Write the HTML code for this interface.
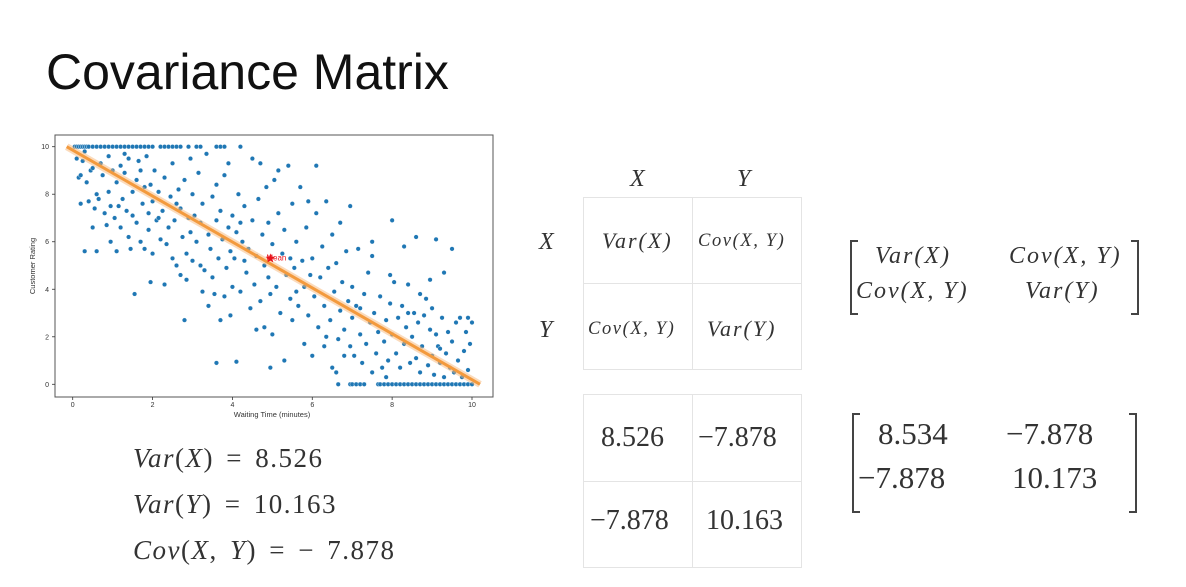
<!DOCTYPE html>
<html><head><meta charset="utf-8">
<style>
body{margin:0;width:1186px;height:587px;background:#fff;overflow:hidden;position:relative;font-family:"Liberation Sans",sans-serif}
.t{position:absolute;white-space:nowrap}
.m{font-family:"Liberation Serif",serif;color:#333}
.i{font-style:italic}
.cell{position:absolute;border:1px solid #e4e4e4;box-sizing:border-box}
.eq{font-size:27px;letter-spacing:1.5px;word-spacing:4px}
</style></head><body>
<div class="t" style="left:46px;top:43px;font-size:50px;color:#111">Covariance Matrix</div>

<svg id="chart" width="520" height="300" style="position:absolute;left:0;top:125px" viewBox="0 125 520 300"></svg>

<div class="t m eq" style="left:133px;top:443px"><span class="i">Var</span>(<span class="i">X</span>) = 8.526</div>
<div class="t m eq" style="left:133px;top:489px"><span class="i">Var</span>(<span class="i">Y</span>) = 10.163</div>
<div class="t m eq" style="left:133px;top:535px"><span class="i">Cov</span>(<span class="i">X</span>, <span class="i">Y</span>) = − 7.878</div>

<div class="t m i" style="left:630px;top:166px;font-size:24px">X</div>
<div class="t m i" style="left:737px;top:166px;font-size:24px">Y</div>
<div class="t m i" style="left:539px;top:229px;font-size:24px">X</div>
<div class="t m i" style="left:539px;top:317px;font-size:24px">Y</div>

<div class="cell" style="left:583px;top:197px;width:110px;height:87px"></div>
<div class="cell" style="left:692px;top:197px;width:110px;height:87px"></div>
<div class="cell" style="left:583px;top:283px;width:110px;height:87px"></div>
<div class="cell" style="left:692px;top:283px;width:110px;height:87px"></div>
<div class="t m i" style="left:602px;top:228px;font-size:22px;letter-spacing:2px">Var(X)</div>
<div class="t m i" style="left:698px;top:231px;font-size:18.5px;letter-spacing:1.6px">Cov(X, Y)</div>
<div class="t m i" style="left:588px;top:319px;font-size:18.5px;letter-spacing:1.6px">Cov(X, Y)</div>
<div class="t m i" style="left:707px;top:316px;font-size:22px;letter-spacing:2px">Var(Y)</div>

<div class="cell" style="left:583px;top:394px;width:110px;height:88px"></div>
<div class="cell" style="left:692px;top:394px;width:110px;height:88px"></div>
<div class="cell" style="left:583px;top:481px;width:110px;height:87px"></div>
<div class="cell" style="left:692px;top:481px;width:110px;height:87px"></div>
<div class="t m" style="left:601px;top:422px;font-size:28px">8.526</div>
<div class="t m" style="left:698px;top:422px;font-size:28px">−7.878</div>
<div class="t m" style="left:590px;top:505px;font-size:28px">−7.878</div>
<div class="t m" style="left:706px;top:505px;font-size:28px">10.163</div>

<svg width="1186" height="587" style="position:absolute;left:0;top:0">
<path d="M858 241 H851 V314 H858 M1131 241 H1138 V314 H1131" fill="none" stroke="#444" stroke-width="2"/>
<path d="M860 414 H853 V512 H860 M1129 414 H1136 V512 H1129" fill="none" stroke="#444" stroke-width="2"/>
</svg>
<div class="t m i" style="left:875px;top:243px;font-size:24px;letter-spacing:2px">Var(X)</div>
<div class="t m i" style="left:1009px;top:243px;font-size:24px;letter-spacing:2px">Cov(X, Y)</div>
<div class="t m i" style="left:856px;top:278px;font-size:24px;letter-spacing:2px">Cov(X, Y)</div>
<div class="t m i" style="left:1025px;top:278px;font-size:24px;letter-spacing:2px">Var(Y)</div>
<div class="t m" style="left:878px;top:416px;font-size:31px">8.534</div>
<div class="t m" style="left:1006px;top:416px;font-size:31px">−7.878</div>
<div class="t m" style="left:858px;top:460px;font-size:31px">−7.878</div>
<div class="t m" style="left:1012px;top:460px;font-size:31px">10.173</div>

<script>
const xTicks=[0,2,4,6,8,10];
const yTicks=[0,2,4,6,8,10];
const topRowX=[0.05,0.1,0.15,0.2,0.25,0.3,0.35,0.4,0.5,0.6,0.7,0.8,0.9,1.0,1.1,1.2,1.3,1.4,1.5,1.6,1.7,1.8,1.9,2.0,2.2,2.3,2.4,2.5,2.6,2.7,2.9,3.1,3.2,3.6,3.7,3.8,4.2];
const bottomRowX=[6.65,6.95,7.0,7.1,7.2,7.3,7.65,7.7,7.8,7.9,8.0,8.1,8.2,8.3,8.4,8.5,8.6,8.7,8.8,8.9,9.0,9.1,9.2,9.3,9.4,9.5,9.6,9.7,9.8,9.9,10.0];
const points=[[0.1,9.5],[0.15,8.7],[0.2,7.6],[0.25,9.4],[0.3,5.6],[0.35,8.5],[0.4,7.7],[0.45,9.0],[0.5,6.6],[0.55,7.4],[0.6,8.0],[0.6,5.6],[0.7,9.3],[0.75,8.8],[0.8,7.2],[0.85,6.7],[0.9,9.6],[0.95,6.0],[0.3,9.8],[0.5,9.1],[0.9,8.1],[0.95,7.5],[0.2,8.8],[0.65,7.8],
[1.0,9.0],[1.05,7.0],[1.1,5.6],[1.1,8.5],[1.2,6.6],[1.2,9.2],[1.25,7.8],[1.3,8.9],[1.35,7.3],[1.4,6.2],[1.4,9.5],[1.5,8.1],[1.5,7.1],[1.55,3.8],[1.6,8.6],[1.6,6.8],[1.7,9.0],[1.7,6.0],[1.75,7.6],[1.8,5.7],[1.8,8.3],[1.85,9.6],[1.9,6.5],[1.9,7.2],[1.95,4.3],[1.95,8.4],[1.3,9.7],[1.45,5.7],[1.65,9.4],[1.15,7.5],
[2.0,5.5],[2.0,7.7],[2.05,9.0],[2.1,6.9],[2.15,8.1],[2.2,6.1],[2.25,7.3],[2.3,4.2],[2.3,8.7],[2.4,6.6],[2.45,7.9],[2.5,5.3],[2.5,9.3],[2.55,6.9],[2.6,5.0],[2.65,8.2],[2.7,7.4],[2.7,4.6],[2.75,6.2],[2.8,2.7],[2.8,8.6],[2.85,5.5],[2.9,7.0],[2.95,6.4],[2.95,9.5],[2.6,7.6],[2.35,5.9],[2.15,7.0],[2.85,4.4],
[3.0,5.2],[3.0,8.0],[3.05,7.1],[3.1,6.0],[3.15,8.9],[3.2,5.0],[3.2,6.8],[3.25,7.6],[3.3,4.8],[3.35,9.7],[3.4,6.3],[3.45,5.7],[3.5,7.9],[3.5,4.5],[3.55,3.8],[3.6,6.9],[3.6,8.4],[3.65,5.3],[3.7,2.7],[3.7,7.3],[3.75,6.1],[3.8,3.7],[3.8,8.8],[3.85,4.9],[3.9,6.6],[3.9,9.3],[3.95,2.9],[3.6,0.9],[3.4,3.3],[3.25,3.9],[3.95,5.6],
[4.0,4.1],[4.0,7.1],[4.05,5.3],[4.1,6.4],[4.1,0.95],[4.15,8.0],[4.2,3.9],[4.25,6.0],[4.3,7.5],[4.35,4.7],[4.4,5.7],[4.45,3.2],[4.5,6.9],[4.5,9.5],[4.55,4.2],[4.6,5.4],[4.65,7.8],[4.7,3.5],[4.75,6.3],[4.8,2.4],[4.8,5.0],[4.85,8.3],[4.9,4.5],[4.9,6.8],[4.95,0.7],[4.95,3.8],[4.6,2.3],[4.3,5.2],[4.7,9.3],[4.2,6.8],
[5.0,5.9],[5.0,2.1],[5.05,8.6],[5.1,4.1],[5.15,7.2],[5.2,3.0],[5.25,5.5],[5.3,6.5],[5.3,1.0],[5.35,4.6],[5.4,9.2],[5.45,3.6],[5.5,7.6],[5.5,2.7],[5.55,4.9],[5.6,6.0],[5.65,3.3],[5.7,8.3],[5.75,5.2],[5.8,1.7],[5.8,4.1],[5.85,6.6],[5.9,2.9],[5.9,7.7],[5.95,4.6],[5.15,9.0],[5.6,3.9],[5.45,5.3],
[6.0,5.3],[6.0,1.2],[6.05,3.7],[6.1,7.2],[6.15,2.4],[6.2,4.5],[6.25,5.8],[6.3,1.6],[6.3,3.3],[6.35,7.7],[6.4,4.9],[6.45,2.7],[6.5,6.3],[6.5,0.7],[6.55,3.9],[6.6,5.1],[6.65,1.9],[6.7,3.1],[6.7,6.8],[6.75,4.3],[6.8,2.3],[6.8,1.2],[6.85,5.6],[6.9,3.5],[6.95,1.6],[6.95,7.5],[6.1,9.2],[6.35,2.0],[6.6,0.5],
[7.0,4.1],[7.0,2.8],[7.05,1.2],[7.1,3.3],[7.15,5.7],[7.2,2.1],[7.25,0.9],[7.3,3.8],[7.35,1.7],[7.4,4.7],[7.45,2.6],[7.5,0.5],[7.5,5.4],[7.55,3.0],[7.6,1.3],[7.65,2.2],[7.7,3.7],[7.75,0.7],[7.8,1.8],[7.85,2.7],[7.9,1.0],[7.95,3.4],[7.95,4.6],[7.5,6.0],[7.2,3.2],[7.85,0.3],
[8.0,2.1],[8.0,6.9],[8.05,4.3],[8.1,1.3],[8.15,2.8],[8.2,0.7],[8.25,3.3],[8.3,1.7],[8.3,5.8],[8.35,2.4],[8.4,4.2],[8.45,0.9],[8.5,2.0],[8.55,3.0],[8.6,1.1],[8.6,6.2],[8.65,2.6],[8.7,0.5],[8.75,1.6],[8.8,2.9],[8.85,3.6],[8.9,0.8],[8.95,2.3],[8.95,4.4],[8.4,3.0],[8.7,3.8],
[9.0,1.2],[9.0,3.2],[9.05,0.4],[9.1,2.1],[9.1,6.1],[9.15,1.6],[9.2,0.9],[9.25,2.8],[9.3,0.3],[9.3,4.7],[9.35,1.3],[9.4,2.2],[9.45,0.7],[9.5,5.7],[9.5,1.8],[9.55,0.5],[9.6,2.6],[9.65,1.0],[9.7,2.8],[9.75,0.3],[9.8,1.4],[9.85,2.2],[9.9,0.6],[9.95,1.7],[10.0,2.6],[9.9,2.8],[9.2,1.5]];
const meanPoint=[4.95,5.3];
const fitLine=[[-0.15,10],[10.2,0]];

const NS='http://www.w3.org/2000/svg';
const svg=document.getElementById('chart');
const X0=72.7,X1=472,Y0=384.3,Y1=146.7;
function sx(v){return X0+(X1-X0)*v/10;}
function sy(v){return Y0+(Y1-Y0)*v/10;}
function mk(tag,attrs){const e=document.createElementNS(NS,tag);for(const k in attrs)e.setAttribute(k,attrs[k]);svg.appendChild(e);return e;}

const frame=mk('rect',{x:55,y:135,width:438,height:262,fill:'none',stroke:'#555','stroke-width':1});


xTicks.forEach(t=>{
  const l=mk('line',{x1:sx(t),x2:sx(t),y1:397,y2:400,stroke:'#333','stroke-width':0.8});
  
  
  const tx=mk('text',{x:sx(t),y:407,'font-size':7,'text-anchor':'middle',fill:'#333','font-family':'Liberation Sans, sans-serif'});
  tx.textContent=t;
  
  
});
yTicks.forEach(t=>{
  const l=mk('line',{x1:52,x2:55,y1:sy(t),y2:sy(t),stroke:'#333','stroke-width':0.8});
  
  
  const tx=mk('text',{x:49,y:sy(t)+2.5,'font-size':7,'text-anchor':'end',fill:'#333','font-family':'Liberation Sans, sans-serif'});
  tx.textContent=t;
  
  
});
const xl=mk('text',{x:272,y:417,'font-size':7.5,'text-anchor':'middle',fill:'#333','font-family':'Liberation Sans, sans-serif'});
xl.textContent='Waiting Time (minutes)';


const yl=mk('text',{x:0,y:0,'font-size':7.5,'text-anchor':'middle',fill:'#333','font-family':'Liberation Sans, sans-serif',transform:'translate(35,266) rotate(-90)'});
yl.textContent='Customer Rating';



function dot(x,y){
  const c=mk('circle',{cx:sx(x),cy:sy(y),r:2.3,fill:'#1f77b4',stroke:'#fff','stroke-width':0.4});
  
  
}
topRowX.forEach(x=>dot(x,10));
bottomRowX.forEach(x=>dot(x,0));
points.forEach(p=>dot(p[0],p[1]));

const glow=mk('line',{x1:sx(fitLine[0][0]),y1:sy(fitLine[0][1]),x2:sx(fitLine[1][0]),y2:sy(fitLine[1][1]),stroke:'#f7b87a','stroke-width':7,'stroke-opacity':0.5});


const fl=mk('line',{x1:sx(fitLine[0][0]),y1:sy(fitLine[0][1]),x2:sx(fitLine[1][0]),y2:sy(fitLine[1][1]),stroke:'#f39a3d','stroke-width':3});



const mx=sx(meanPoint[0]),my=sy(meanPoint[1]);
let d='';for(let k=0;k<10;k++){const r=k%2?2.2:5;const a=-Math.PI/2+k*Math.PI/5;d+=(k?'L':'M')+(mx+r*Math.cos(a)).toFixed(1)+' '+(my+r*Math.sin(a)).toFixed(1);}
const star=mk('path',{d:d+'Z',fill:'#e8141c'});


const ml=mk('text',{x:mx-4,y:my+2,'font-size':8,fill:'#e8141c','font-family':'Liberation Sans, sans-serif'});
ml.textContent='Mean';


</script>
</body></html>
